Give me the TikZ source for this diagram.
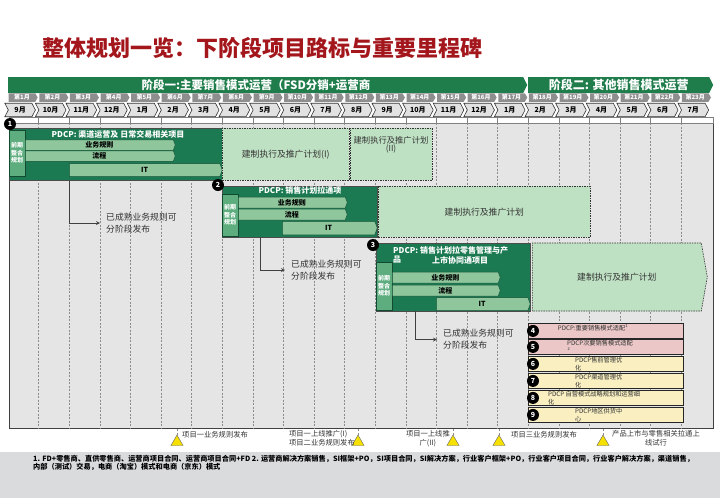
\documentclass[tikz,border=0pt]{standalone}
\usepackage{fontspec}
\setmainfont{Noto Sans CJK SC}
\usetikzlibrary{shapes.symbols,shapes.geometric}

\definecolor{titlered}{HTML}{A3161C}
\definecolor{phasegreen}{HTML}{1E7D4A}
\definecolor{tabgrey}{HTML}{8E8E8E}
\definecolor{monthgrey}{HTML}{E2E2E2}
\definecolor{bodygrey}{HTML}{E5E5E5}
\definecolor{blockgreen}{HTML}{1C7A52}
\definecolor{sidegreen}{HTML}{5EAD7F}
\definecolor{bargreen}{HTML}{8FC69C}
\definecolor{plangreen}{HTML}{BFE1C3}
\definecolor{itempink}{HTML}{EBC7C7}
\definecolor{itemyellow}{HTML}{F9EFC1}
\definecolor{footgrey}{HTML}{D9DBDD}
\definecolor{msyellow}{HTML}{F5E000}

\tikzstyle{phase} = [shape=signal, signal to=east, signal pointer angle=127, fill=phasegreen, inner sep=0, minimum height=16, anchor=west, text=white, font=\bfseries\fontsize{12}{12}\selectfont]
\tikzstyle{weektab} = [shape=signal, signal to=east, signal pointer angle=120, fill=tabgrey, text=white, font=\bfseries\fontsize{6}{6}\selectfont, inner sep=0, minimum width=29, minimum height=8.5, anchor=west]
\tikzstyle{monthbox} = [shape=signal, signal to=east, signal from=west, signal pointer angle=125, fill=monthgrey, draw=black!80, line width=0.6, font=\bfseries\fontsize{7}{7}\selectfont, inner sep=0, minimum width=30.6, minimum height=13.5, anchor=west]
\tikzstyle{gridline} = [draw=black!45, dash pattern=on 2pt off 1.5pt, line width=0.5]
\tikzstyle{blockbox} = [fill=blockgreen, draw=black!70, line width=0.6, inner sep=0, anchor=north west]
\tikzstyle{sidebox} = [fill=sidegreen, draw=blockgreen!60!black, line width=0.4, inner sep=0, minimum width=16, anchor=north west, align=center, text=white, font=\bfseries\fontsize{6}{7.5}\selectfont]
\tikzstyle{blocktitle} = [text=white, inner sep=0, font=\bfseries\fontsize{8}{10}\selectfont]
\tikzstyle{barbox} = [shape=signal, signal to=east, signal pointer angle=140, fill=bargreen, draw=blockgreen!70!black, line width=0.5, inner sep=0, anchor=west, font=\bfseries\fontsize{7}{7}\selectfont]
\tikzstyle{planbox} = [fill=plangreen, draw=black!80, dash pattern=on 1.5pt off 1pt, line width=0.6, inner sep=0, anchor=north west, text=black!80, font=\fontsize{8.8}{10}\selectfont]
\tikzstyle{numdot} = [circle, fill=black, text=white, inner sep=0, minimum size=12, font=\bfseries\fontsize{7}{7}\selectfont]
\tikzstyle{reltext} = [inner sep=0, anchor=west, align=left, text=black!80, font=\fontsize{8.8}{12}\selectfont]
\tikzstyle{arrow} = [draw=black!75, line width=0.8, -stealth]
\tikzstyle{itembox} = [draw=black!85, line width=0.8, inner sep=0, minimum width=155, anchor=north west]
\tikzstyle{itemtext} = [inner sep=0, anchor=north west, align=left, text=black!80, font=\fontsize{6.2}{7.5}\selectfont]
\tikzstyle{milestone} = [regular polygon, regular polygon sides=3, minimum size=14, inner sep=0, fill=msyellow, draw=black!60, line width=0.4]
\tikzstyle{mslabel} = [inner sep=0, text=black!80, font=\fontsize{7.3}{9}\selectfont]

\begin{document}
\begin{tikzpicture}[x=1pt,y=-1pt]
\useasboundingbox (0,0) rectangle (720,498);

% title
\node[anchor=west, inner sep=0, text=titlered, font=\bfseries\fontsize{22}{22}\selectfont] (title) at (42,48) {整体规划一览：下阶段项目路标与重要里程碑};

% phases and months
\node[phase, minimum width=519] (ph1) at (8,85) {};
\node[text=white, inner sep=0, font=\bfseries\fontsize{11.5}{12}\selectfont] (ph1txt) at (256,85) {阶段一:主要销售模式运营（FSD分销+运营商};
\node[phase, minimum width=185] (ph2) at (528,85) {阶段二: 其他销售模式运营};
\foreach \m [count=\i] in {9,10,11,12,1,2,3,4,5,6,7,8,9,10,11,12,1,2,3,4,5,6,7} {
  \node[weektab] (w\i) at ({8.5+30.6*(\i-1)},97.5) {第\i{}月};
  \node[monthbox] (m\i) at ({8+30.6*(\i-1)},110) {\m{}月};
}

% body and grid
\node[draw=black!75, line width=0.8, fill=bodygrey, minimum width=704, minimum height=311, anchor=north west, inner sep=0] (body) at (9,117) {};
\draw[fill=white, draw=black!50, line width=0.4] (9,117) rectangle (713,123);
\foreach \k in {1,...,22} {
  \draw[black!50, line width=0.4] ({8+30.6*\k},117) -- ({8+30.6*\k},123);
  \draw[gridline] ({8+30.6*\k},123) -- ({8+30.6*\k},428);
}

% project 1
\node[blockbox, minimum width=213, minimum height=52] (blk1) at (9,128) {};
\node[sidebox, minimum height=46] (side1) at (9,130) {前期\\整合\\规划};
\node[blocktitle] (ttl1) at (118,134) {PDCP: 渠道运营及 日常交易相关项目};
\node[barbox, minimum width=150, minimum height=10.5] (rule1) at (25,145) {业务规则};
\node[barbox, minimum width=150, minimum height=10.5] (flow1) at (25,156) {流程};
\node[barbox, minimum width=153, minimum height=13] (it1) at (69,170) {IT};
\node[planbox, minimum width=127, minimum height=52] (plan1a) at (222,128) {建制执行及推广计划(I)};
\node[planbox, minimum width=82, minimum height=52] (plan1b) at (350,128) {};
\node[inner sep=0, align=center, text=black!80, font=\fontsize{8.3}{8.5}\selectfont] (plan1btxt) at (391,145) {建制执行及推广计划\\(II)};
\node[numdot] (n1) at (10,124) {1};
\coordinate (drop1) at (blk1.south -| it1.west);
\node[reltext] (rel1) at (106,223) {已成熟业务规则可\\分阶段发布};
\draw[arrow] (drop1) |- ([xshift=-6]rel1.west);

% project 2
\node[blockbox, minimum width=155, minimum height=51] (blk2) at (222,186) {};
\node[sidebox, minimum height=42] (side2) at (222,194) {前期\\整合\\规划};
\node[blocktitle] (ttl2) at (300,190) {PDCP: 销售计划拉通项};
\node[barbox, minimum width=109, minimum height=11] (rule2) at (238,202.5) {业务规则};
\node[barbox, minimum width=109, minimum height=11] (flow2) at (238,214.5) {流程};
\node[barbox, minimum width=95, minimum height=13.5] (it2) at (282,228) {IT};
\node[planbox, minimum width=212, minimum height=51] (plan2) at (378,186) {建制执行及推广计划};
\node[numdot] (n2) at (218,185) {2};
\coordinate (drop2) at (260,237);
\node[reltext] (rel2) at (291,270) {已成熟业务规则可\\分阶段发布};
\draw[arrow] (drop2) |- ([xshift=-6]rel2.west);

% project 3
\node[blockbox, minimum width=154, minimum height=68] (blk3) at (376,243) {};
\node[sidebox, minimum height=48] (side3) at (376,262) {前期\\整合\\规划};
\node[blocktitle, anchor=west] (ttl3a) at (393,250) {PDCP: 销售计划拉零售管理与产};
\node[blocktitle, anchor=west] (ttl3b) at (393,260) {品};
\node[blocktitle] (ttl3c) at (460,260) {上市协同通项目};
\node[barbox, minimum width=108, minimum height=11] (rule3) at (392,277.5) {业务规则};
\node[barbox, minimum width=108, minimum height=11] (flow3) at (392,290.5) {流程};
\node[barbox, minimum width=94, minimum height=13] (it3) at (436,304) {IT};
\node[planbox, shape=signal, signal to=east, signal pointer angle=160, anchor=west, minimum width=175, minimum height=68] (plan3) at (532,277) {建制执行及推广计划};
\node[numdot] (n3) at (373,245) {3};
\coordinate (drop3) at (415,311);
\node[reltext] (rel3) at (443,339.5) {已成熟业务规则可\\分阶段发布};
\draw[arrow] (drop3) |- ([xshift=-6]rel3.west);

% follow-up items
\node[itembox, fill=itempink, minimum height=15] (item4) at (528,323) {};
\node[itembox, fill=itempink, minimum height=15] (item5) at (528,339) {};
\node[itembox, fill=itemyellow, minimum height=15] (item6) at (528,356) {};
\node[itembox, fill=itemyellow, minimum height=15] (item7) at (528,373) {};
\node[itembox, fill=itemyellow, minimum height=15] (item8) at (528,390) {};
\node[itembox, fill=itemyellow, minimum height=15] (item9) at (528,407) {};
\node[itemtext, anchor=north] (txt4) at (593,324.5) {PDCP:重要销售模式适配\textsuperscript{1}};
\node[itemtext] (txt5) at (567,340.5) {PDCP次要销售模式适配};
\node[itemtext, font=\fontsize{4}{4}\selectfont] (txt5b) at (567.5,347.5) {2};
\node[itemtext] (txt6) at (575,357.5) {PDCP售前管理优\\化};
\node[itemtext] (txt7) at (575,374.5) {PDCP渠道管理优\\化};
\node[itemtext] (txt8) at (548,391.5) {PDCP 自营模式战略规划和运营细\\化};
\node[itemtext] (txt9) at (575,408.5) {PDCP地区供货中\\心};
\foreach \n in {4,...,9}
  \node[numdot] (n\n) at ([xshift=5]item\n.west) {\n};

% milestones
\node[milestone] (ms1) at (177,442) {};
\node[milestone] (ms2) at (358,442) {};
\node[milestone] (ms3) at (453,442) {};
\node[milestone] (ms4) at (499,442) {};
\node[milestone] (ms5) at (603,442) {};
\foreach \s in {1,...,5}
  \draw[gridline] (ms\s.north) -- (ms\s.north |- body.south);
\node[mslabel, anchor=west] (ml1) at (182,435) {项目一业务规则发布};
\node[mslabel, anchor=east, align=left] (ml2) at (355,438.5) {项目一上线推广(I)\\项目二业务规则发布};
\node[mslabel, anchor=east, align=center] (ml3) at (450,438.5) {项目一上线推\\广(II)};
\node[mslabel, anchor=west] (ml4) at (511,435) {项目三业务规则发布};
\node[mslabel, anchor=west, align=center] (ml5) at (612,438.5) {产品上市与零售相关拉通上\\线试行};

% footnote
\fill[footgrey] (0,452) rectangle (720,498);
\node[anchor=west, inner sep=0, font=\bfseries\fontsize{7.2}{7.2}\selectfont] (foot1) at (33,458.5) {1. FD+零售商、直供零售商、运营商项目合同、运营商项目合同+FD 2. 运营商解决方案销售，SI框架+PO，SI项目合同，SI解决方案，行业客户框架+PO，行业客户项目合同，行业客户解决方案，渠道销售，};
\node[anchor=west, inner sep=0, font=\bfseries\fontsize{7.2}{7.2}\selectfont] (foot2) at (33,466.5) {内部（测试）交易，电商（淘宝）模式和电商（京东）模式};
\end{tikzpicture}
\end{document}
